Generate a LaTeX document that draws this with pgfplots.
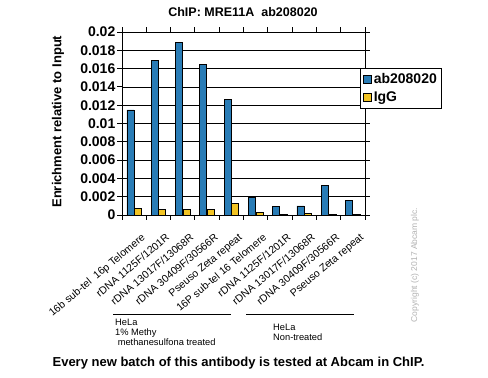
\documentclass[border=0pt]{standalone}
\usepackage{pgfplots}
\pgfplotsset{compat=1.18}
\usepackage{fontspec}
\setmainfont{Liberation Sans}
\definecolor{cblue}{RGB}{41,124,182}
\definecolor{cyel}{RGB}{242,196,36}
\begin{document}
\begin{tikzpicture}
\useasboundingbox (0,0) rectangle (488pt,378pt);
\begin{axis}[
  at={(122pt,163pt)}, anchor=south west, scale only axis,
  width=243pt, height=183pt,
  xmin=-0.5, xmax=9.5, ymin=0, ymax=0.02,
  ybar=0.6pt, bar width=7pt,
  axis line style={black, line width=0.8pt},
  xtick={0,1,2,3,4,5,6,7,8,9},
  xticklabels={16b sub-tel\ \ 16p Telomere, rDNA 1125F/1201R, rDNA 13017F/13068R, rDNA 30409F/30566R, Pseuso Zeta repeat, 16P sub-tel 16 Telomere, rDNA 1125F/1201R, rDNA 13017F/13068R, rDNA 30409F/30566R, Pseuso Zeta repeat},
  major x tick style={draw=none},
  minor xtick={-0.5,0.5,1.5,2.5,3.5,4.5,5.5,6.5,7.5,8.5,9.5},
  minor x tick style={black, line width=0.8pt},
  tick align=outside, minor tick length=5pt, major tick length=5pt,
  ytick={0,0.002,0.004,0.006,0.008,0.01,0.012,0.014,0.016,0.018,0.02},
  yticklabels={0,0.002,0.004,0.006,0.008,0.01,0.012,0.014,0.016,0.018,0.02},
  scaled y ticks=false,
  y tick style={black, line width=0.8pt},
  ymajorgrids, major grid style={black, line width=0.6pt},
  yticklabel style={font=\fontsize{14}{14}\selectfont\bfseries, inner sep=1.5pt},
  xticklabel style={rotate=40, anchor=north east, font=\fontsize{10.5}{10.5}\selectfont, inner sep=1pt, xshift=-2pt, yshift=-13pt},
  ylabel={Enrichment relative to Input},
  ylabel style={font=\fontsize{13}{13}\selectfont\bfseries, at={(axis description cs:-0.263,0.51)}, anchor=center},
  legend style={at={(axis description cs:0.979,0.803)}, anchor=north west, draw=black, line width=0.8pt,
    font=\fontsize{14}{14}\selectfont\bfseries, row sep=3pt, inner xsep=3pt, inner ysep=3pt},
  legend cell align=left,
  legend image code/.code={\draw[#1, draw=black, line width=0.5pt] (0pt,-4pt) rectangle (8pt,4pt);},
  clip=false,
]
\addplot[fill=cblue, draw=black, line width=0.5pt] coordinates {
 (0,0.0115) (1,0.0169) (2,0.0189) (3,0.0165) (4,0.0126)
 (5,0.0019) (6,0.00095) (7,0.001) (8,0.0032) (9,0.0016)};
\addplot[fill=cyel, draw=black, line width=0.5pt] coordinates {
 (0,0.0007) (1,0.0006) (2,0.0006) (3,0.0006) (4,0.0013)
 (5,0.0003) (6,0.0001) (7,0.0002) (8,0.0001) (9,0.00005)};
\legend{ab208020, IgG}
\end{axis}
\node[font=\fontsize{12.5}{12.5}\selectfont\bfseries] at (243pt,366pt) {ChIP: MRE11A\ \ ab208020};
\node[font=\fontsize{13}{13}\selectfont\bfseries] at (238.5pt,15pt) {Every new batch of this antibody is tested at Abcam in ChIP.};
\draw[line width=1pt] (113pt,63.3pt) -- (231pt,63.3pt);
\draw[line width=1pt] (246pt,63.3pt) -- (354pt,63.3pt);
\node[anchor=north west, align=left, font=\fontsize{9.3}{10}\selectfont, inner sep=0pt] at (115pt,59pt) {HeLa\\1\% Methy\\\ methanesulfona treated};
\node[anchor=north west, align=left, font=\fontsize{9.3}{10}\selectfont, inner sep=0pt] at (273pt,54pt) {HeLa\\Non-treated};
\node[rotate=90, text=black!30, font=\fontsize{8.5}{8.5}\selectfont] at (415pt,113pt) {Copyright (c) 2017 Abcam plc.};
\end{tikzpicture}
\end{document}
